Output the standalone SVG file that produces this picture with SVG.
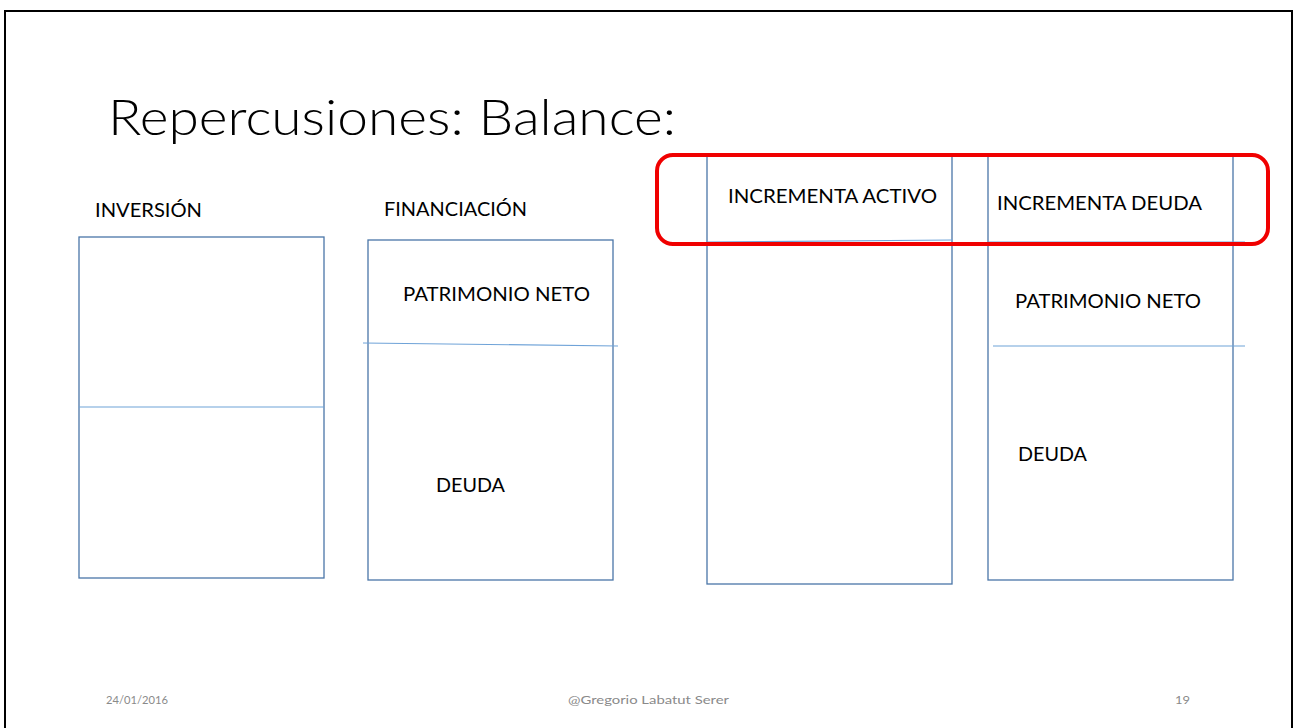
<svg xmlns="http://www.w3.org/2000/svg" width="1297" height="728" viewBox="0 0 1297 728">
<style>
.t{font-family:Lato,"Open Sans","Liberation Sans",sans-serif;fill:#000;font-size:19px}
.ttl{font-family:Lato,"Open Sans","Liberation Sans",sans-serif;font-weight:300;font-size:49px;fill:#000}
.ft{font-family:Lato,"Open Sans","Liberation Sans",sans-serif;font-size:12px;fill:#8a8a8a}
.box{fill:#fff;stroke:#4a76a8;stroke-width:1.3}
.div{stroke:#6fa3d8;stroke-width:1.2;fill:none}
</style>
<rect x="0" y="0" width="1297" height="728" fill="#fff"/>
<rect x="5" y="11" width="1287" height="730" fill="none" stroke="#000" stroke-width="2"/>
<text class="ttl" x="108" y="135" textLength="568" lengthAdjust="spacingAndGlyphs">Repercusiones: Balance:</text>
<g id="inversion">
<text class="t" x="95" y="217" textLength="107" lengthAdjust="spacingAndGlyphs">INVERSIÓN</text>
<rect class="box" x="79" y="237" width="245" height="341"/>
<line class="div" x1="79" y1="407" x2="324" y2="407"/>
</g>
<g id="financiacion">
<text class="t" x="384" y="216" textLength="143" lengthAdjust="spacingAndGlyphs">FINANCIACIÓN</text>
<rect class="box" x="368" y="240" width="245" height="340"/>
<line class="div" x1="363" y1="343" x2="618" y2="346"/>
<text class="t" x="403" y="301" textLength="187" lengthAdjust="spacingAndGlyphs">PATRIMONIO NETO</text>
<text class="t" x="436" y="492" textLength="69" lengthAdjust="spacingAndGlyphs">DEUDA</text>
</g>
<g id="activo">
<rect class="box" x="707" y="155" width="245" height="429"/>
<line class="div" x1="707" y1="242" x2="952" y2="240"/>
<text class="t" x="728" y="203" textLength="209" lengthAdjust="spacingAndGlyphs">INCREMENTA ACTIVO</text>
</g>
<g id="pasivo">
<rect class="box" x="988" y="155" width="245" height="425"/>
<line class="div" x1="988" y1="242" x2="1245" y2="242"/>
<line class="div" x1="993" y1="346" x2="1245" y2="346"/>
<text class="t" x="997" y="210" textLength="205" lengthAdjust="spacingAndGlyphs">INCREMENTA DEUDA</text>
<text class="t" x="1015" y="308" textLength="186" lengthAdjust="spacingAndGlyphs">PATRIMONIO NETO</text>
<text class="t" x="1018" y="461" textLength="69" lengthAdjust="spacingAndGlyphs">DEUDA</text>
</g>
<g id="highlight">
<rect x="657" y="155" width="611" height="89" rx="16" ry="16" fill="none" stroke="#f00000" stroke-width="4"/>
</g>
<g id="footer">
<text class="ft" x="106" y="704" textLength="62" lengthAdjust="spacingAndGlyphs">24/01/2016</text>
<text class="ft" x="568" y="704" textLength="161" lengthAdjust="spacingAndGlyphs">@Gregorio Labatut Serer</text>
<text class="ft" x="1175" y="704" textLength="15" lengthAdjust="spacingAndGlyphs">19</text>
</g>
<g id="connectors"></g>
</svg>
